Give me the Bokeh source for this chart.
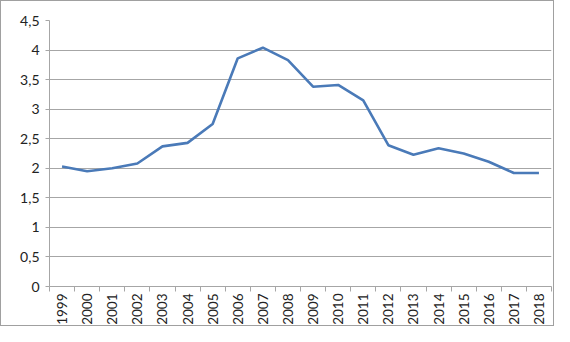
from bokeh.plotting import figure
from bokeh.models import Range1d, FixedTicker
from bokeh.embed import file_html
from bokeh.resources import INLINE

years = [1999, 2000, 2001, 2002, 2003, 2004, 2005, 2006, 2007, 2008,
         2009, 2010, 2011, 2012, 2013, 2014, 2015, 2016, 2017, 2018]
values = [2.03, 1.95, 2.00, 2.08, 2.37, 2.43, 2.75, 3.86, 4.04, 3.83,
          3.38, 3.41, 3.15, 2.39, 2.23, 2.34, 2.25, 2.11, 1.92, 1.92]
y_ticks = [0, 0.5, 1, 1.5, 2, 2.5, 3, 3.5, 4, 4.5]
y_labels = ["0", "0,5", "1", "1,5", "2", "2,5", "3", "3,5", "4", "4,5"]

FONT = "Lato"
GRID = "#a6a6a6"

p = figure(width=554, height=326, output_backend="svg", toolbar_location=None,
           x_range=Range1d(years[0] - 0.5, years[-1] + 0.5),
           y_range=Range1d(0, 4.5),
           min_border_left=48, min_border_right=4, min_border_top=19,
           min_border_bottom=39)
p.styles = {"border": "1px solid #a0a0a0"}
p.outline_line_color = None
p.background_fill_color = "white"
p.border_fill_color = "white"

p.line(years, values, line_color="#4a7ab8", line_width=2.6)

# x axis
p.xaxis.ticker = FixedTicker(ticks=years,
                             minor_ticks=[y - 0.5 for y in years] + [years[-1] + 0.5])
p.xaxis.major_label_overrides = {y: str(y) for y in years}
p.xaxis.major_label_orientation = 1.5708
p.xaxis.major_tick_out = 0
p.xaxis.major_tick_in = 0
p.xaxis.minor_tick_out = 5
p.xaxis.minor_tick_in = 0
p.xaxis.minor_tick_line_color = GRID
p.xaxis.axis_line_color = GRID
p.xaxis.major_label_text_font = FONT
p.xaxis.major_label_text_font_size = "13.5px"
p.xaxis.major_label_text_color = "#222222"
p.xaxis.major_label_standoff = 2

# y axis
p.yaxis.ticker = FixedTicker(ticks=y_ticks)
p.yaxis.major_label_overrides = {t: l for t, l in zip(y_ticks, y_labels)}
p.yaxis.major_tick_out = 4
p.yaxis.major_tick_in = 0
p.yaxis.minor_tick_out = 0
p.yaxis.minor_tick_in = 0
p.yaxis.major_tick_line_color = GRID
p.yaxis.axis_line_color = GRID
p.yaxis.major_label_text_font = FONT
p.yaxis.major_label_text_font_size = "14px"
p.yaxis.major_label_text_color = "#222222"
p.yaxis.major_label_standoff = 6

p.xgrid.grid_line_color = None
p.ygrid.grid_line_color = GRID
p.ygrid.grid_line_width = 1

open("out.html", "w").write(file_html(p, INLINE))
